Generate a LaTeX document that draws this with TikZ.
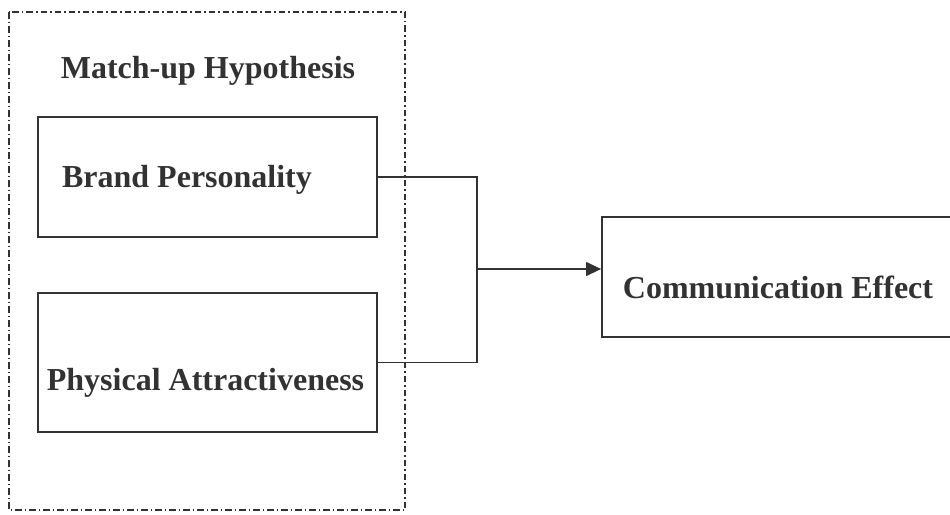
\documentclass[tikz,border=0pt]{standalone}
\usepackage{fontspec}
\setmainfont{Liberation Serif}
\usepackage{xcolor}
\definecolor{tinta}{RGB}{50,50,50}
\usepackage{tikz}
\usetikzlibrary{arrows.meta, positioning, calc}

\begin{document}
\begin{tikzpicture}[x=1pt, y=-1pt,
  caja/.style={rectangle, draw=tinta, line width=1.8pt, inner sep=0pt,
              minimum width=339pt, minimum height=120pt},
  txt/.style={anchor=base, text=tinta, font=\fontsize{32}{38}\selectfont\bfseries},
  lin/.style={draw=tinta, line width=1.3pt},
  arr/.style={lin, -{Triangle[length=15pt, width=14pt]}},
  grupo/.style={draw=tinta, line width=1.4pt, dash pattern=on 6.5pt off 3pt on 1.5pt off 3pt}
]
  \useasboundingbox (0,0) rectangle (950,514);
  \draw[grupo] (9,12) rectangle (405,510);
  \node[txt] (hip) at (208,78) {Match-up Hypothesis};

  \node[caja] (brand) at (207.5,177) {};
  \node[txt] (brandT) at (187,187) {Brand Personality};

  \node[caja, minimum height=139pt] (phys) at (207.5,362.5) {};
  \node[txt] (physT) at (205.5,390) {Physical Attractiveness};

  \node[caja, minimum width=350pt] (comm) at (777,277) {};
  \node[txt] (commT) at (778,298) {Communication Effect};

  \coordinate (j) at (477,269);
  \draw[lin] (brand.east) -- (brand.east -| j) -- (phys.east -| j) -- (phys.east);
  \draw[arr] (j) -- (j -| comm.west);
\end{tikzpicture}
\end{document}
